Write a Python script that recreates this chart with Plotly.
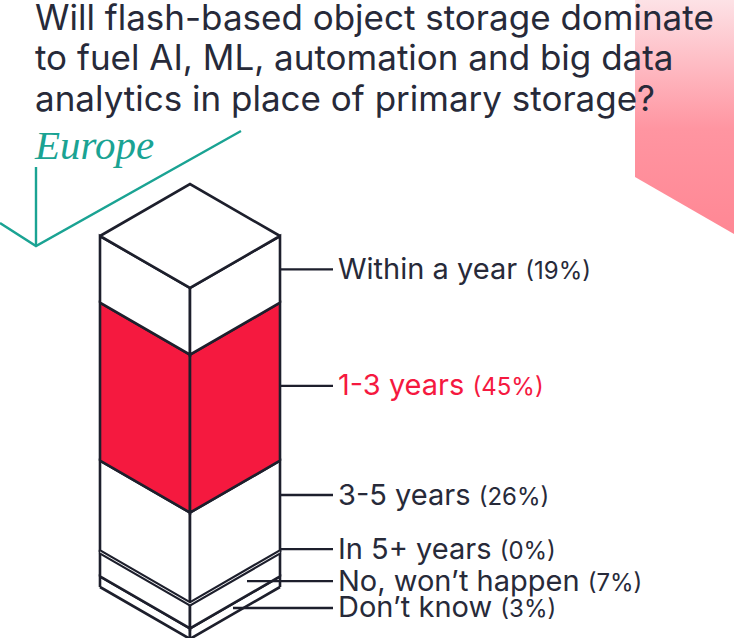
import math
import plotly.graph_objects as go

# ---------------- data ----------------
categories = ["Within a year", "1-3 years", "3-5 years", "In 5+ years",
              "No, won\u2019t happen", "Don\u2019t know"]
values = [19, 45, 26, 0, 7, 3]
highlight = "1-3 years"

title_lines = ["Will flash-based object storage dominate",
               "to fuel AI, ML, automation and big data",
               "analytics in place of primary storage?"]
subtitle = "Europe"

# ---------------- layout / style constants ----------------
W, H = 734, 638
CX, HALF_W = 190, 90             # column centre and half width (x units = px)
PX_PER_PCT = 3.51                # vertical scale
BASE_PX = 587                    # pixel row of 0 %
DY = HALF_W * math.tan(math.radians(30)) / PX_PER_PCT

INK = "#1d1f2c"
TEXT = "#272a39"
RED = "#f5193f"
TEAL = "#1aa393"
FONT = "Inter"

LEADER_END = 333
LABEL_X = 336
# leader start x and small vertical nudges (in % units) per category
LEADER_START = [280, 280, 280, 280, 247, 233]
LEADER_NUDGE = [0.0, -1.2, 3.2, 0.8, 0.6, 0.25]
TITLE_ROWS = [17, 57.5, 98]      # pixel rows of title line centres


def ypx(px):
    """convert a pixel row to y-axis units"""
    return (BASE_PX - px) / PX_PER_PCT


fig = go.Figure()

# decorative pink cube face (background, behind title)
fig.add_trace(go.Scatter(
    x=[635, 734, 734, 635, 635], y=[ypx(0), ypx(0), ypx(234), ypx(177), ypx(0)],
    mode="lines", line=dict(width=0), fill="toself",
    fillgradient=dict(type="vertical",
                      colorscale=[[0, "#ff8794"], [0.45, "#ff95a1"], [1, "#fde2e6"]]),
    hoverinfo="skip", showlegend=False))

# decorative teal lines
fig.add_trace(go.Scatter(
    x=[0, 36, 241], y=[ypx(223), ypx(246), ypx(131)], mode="lines",
    line=dict(color=TEAL, width=2.4), hoverinfo="skip", showlegend=False))
fig.add_trace(go.Scatter(
    x=[36, 36], y=[ypx(167), ypx(246)], mode="lines",
    line=dict(color=TEAL, width=2.4), hoverinfo="skip", showlegend=False))

# ---------------- stacked isometric column ----------------
order = list(range(len(categories)))[::-1]   # bottom -> top
bottoms = {}
acc = 0
for i in order:
    bottoms[i] = acc
    acc += values[i]
total = acc

L, R = CX - HALF_W, CX + HALF_W
for i in order:
    b = bottoms[i]
    t = b + values[i]
    fill = RED if categories[i] == highlight else "white"
    if values[i] == 0:
        continue
    for xe in (L, R):
        fig.add_trace(go.Scatter(
            x=[xe, CX, CX, xe, xe], y=[b, b - DY, t - DY, t, b],
            mode="lines", fill="toself", fillcolor=fill,
            line=dict(color=INK, width=2.6), hoverinfo="skip", showlegend=False))

# top cap
fig.add_trace(go.Scatter(
    x=[L, CX, R, CX, L], y=[total, total + DY, total, total - DY, total],
    mode="lines", fill="toself", fillcolor="white",
    line=dict(color=INK, width=2.6), hoverinfo="skip", showlegend=False))

# zero-height segments: drawn as a doubled boundary line
for i in order:
    if values[i] == 0:
        b = bottoms[i]
        fig.add_trace(go.Scatter(x=[L, CX, R], y=[b, b - DY, b], mode="lines",
                                 line=dict(color=INK, width=5), hoverinfo="skip",
                                 showlegend=False))
        fig.add_trace(go.Scatter(x=[L, CX, R], y=[b, b - DY, b], mode="lines",
                                 line=dict(color="white", width=0.9), hoverinfo="skip",
                                 showlegend=False))

# ---------------- leaders and labels ----------------
annotations = []
for i, cat in enumerate(categories):
    mid = bottoms[i] + values[i] / 2
    xs = LEADER_START[i]
    yl = mid - (R - xs) * math.tan(math.radians(30)) / PX_PER_PCT + LEADER_NUDGE[i]
    fig.add_trace(go.Scatter(x=[xs, LEADER_END], y=[yl, yl], mode="lines",
                             line=dict(color=INK, width=2.4), hoverinfo="skip",
                             showlegend=False))
    col = RED if cat == highlight else TEXT
    annotations.append(dict(
        x=LABEL_X, y=yl, xref="x", yref="y", xanchor="left", yanchor="middle",
        text=f"{cat} <span style='font-size:24px'>({values[i]}%)</span>",
        showarrow=False, font=dict(family=FONT, size=29, color=col), yshift=1))

for line, row in zip(title_lines, TITLE_ROWS):
    annotations.append(dict(
        x=33 / W, y=1 - row / H, xref="paper", yref="paper", xanchor="left",
        yanchor="middle", text=line, align="left", showarrow=False,
        font=dict(family=FONT, size=35, color=TEXT)))
annotations.append(dict(
    x=32 / W, y=1 - 145 / H, xref="paper", yref="paper", xanchor="left",
    yanchor="middle", text=f"<i>{subtitle}</i>", showarrow=False,
    font=dict(family="Liberation Serif", size=41, color=TEAL)))

fig.update_layout(
    width=W, height=H, margin=dict(l=0, r=0, t=0, b=0, pad=0),
    paper_bgcolor="white", plot_bgcolor="white",
    xaxis=dict(range=[0, W], visible=False, fixedrange=True),
    yaxis=dict(range=[ypx(H), ypx(0)], visible=False, fixedrange=True),
    annotations=annotations, showlegend=False)

fig.write_html("out.html", config={"displayModeBar": False},
               post_script="document.body.style.margin='0';document.body.style.padding='0';")
